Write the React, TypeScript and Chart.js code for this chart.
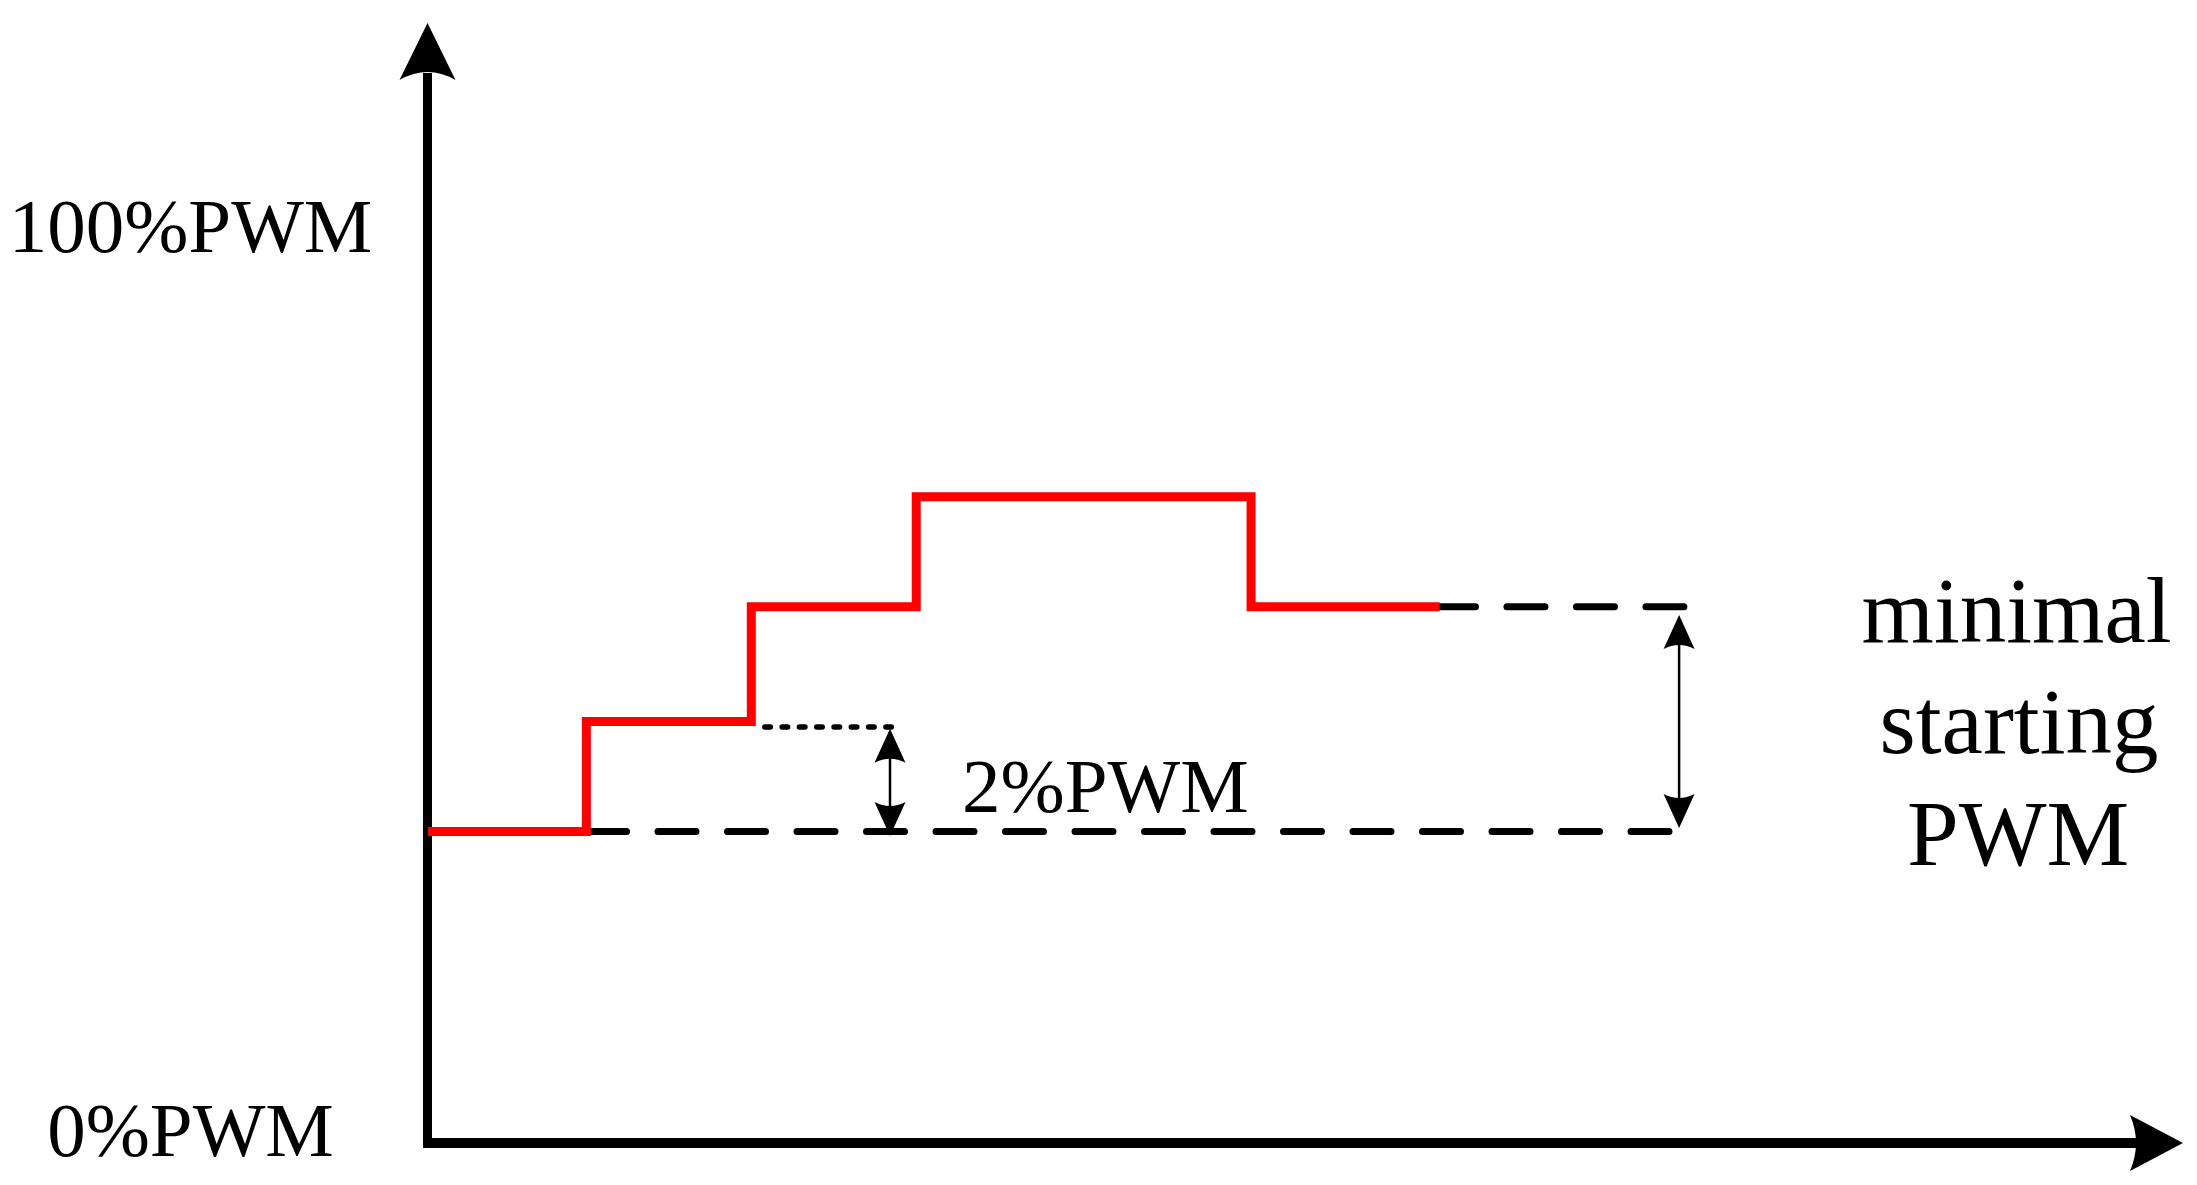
import { useEffect, useRef } from "react";
import { Chart, registerables } from "chart.js";

Chart.register(...registerables);

const FONT = '"Liberation Serif", "Times New Roman", Times, serif';

// scale extents (time units / %PWM)
const X_MAX = 10.64;
const Y_MAX = 122.2;

// red PWM staircase
const pwmX = [0, 0.96, 1.96, 2.96, 3.97, 4.99, 6.133];
const pwmY = [34, 46, 58.5, 70.5, 70.5, 58.5, 58.5];

// dashed reference levels
const baseLevelX = [0.973, 7.524];
const baseLevelY = [34, 34];
const minLevelX = [6.12, 7.614];
const minLevelY = [58.5, 58.5];

// dotted 2% step level
const stepDotX = [2.042, 2.809];
const stepDotY = [45.4, 45.4];

// double-headed arrows
const arrowX = [2.801, 7.585];
const arrowTopY = [45.2, 57.6];
const arrowBottomY = [33.5, 34.37];

// labels
const axisLabels = ["100%PWM", "0%PWM"];
const axisLabelX = [-1.44, -1.44];
const axisLabelY = [97.22, -1.42];

const stepLabel = "2%PWM";
const stepLabelX = 3.238;
const stepLabelY = 36.12;

const noteLines = ["minimal", "starting", "PWM"];
const noteX = [9.631, 9.646, 9.64];
const noteY = [54.66, 42.55, 30.33];

function head(
  ctx: CanvasRenderingContext2D,
  tx: number,
  ty: number,
  dx: number,
  dy: number,
  len: number,
  hw: number,
  concave: number
) {
  const bx = tx - dx * len;
  const by = ty - dy * len;
  const nx = -dy;
  const ny = dx;
  ctx.beginPath();
  ctx.moveTo(tx, ty);
  ctx.lineTo(bx + nx * hw, by + ny * hw);
  ctx.quadraticCurveTo(bx + dx * concave * 2, by + dy * concave * 2, bx - nx * hw, by - ny * hw);
  ctx.closePath();
  ctx.fill();
}

const diagramPlugin = {
  id: "diagram",
  beforeDatasetsDraw(chart: any) {
    const ctx: CanvasRenderingContext2D = chart.ctx;
    const xs = chart.scales.x;
    const ys = chart.scales.y;
    const ox = xs.getPixelForValue(0) - 0.5;
    const oy = ys.getPixelForValue(0);
    const top = ys.getPixelForValue(Y_MAX);
    const right = xs.getPixelForValue(X_MAX);
    ctx.save();
    ctx.strokeStyle = "#000";
    ctx.fillStyle = "#000";
    ctx.lineCap = "butt";
    ctx.lineJoin = "miter";
    ctx.lineWidth = 9;
    ctx.beginPath();
    ctx.moveTo(ox, top + 50);
    ctx.lineTo(ox, oy + 5);
    ctx.stroke();
    ctx.lineWidth = 10;
    ctx.beginPath();
    ctx.moveTo(ox - 4.5, oy);
    ctx.lineTo(right - 45, oy);
    ctx.stroke();
    head(ctx, ox, top, 0, -1, 57, 28, 8);
    head(ctx, right, oy, 1, 0, 53, 28, 6);
    ctx.restore();
  },
  afterDatasetsDraw(chart: any) {
    const ctx: CanvasRenderingContext2D = chart.ctx;
    const xs = chart.scales.x;
    const ys = chart.scales.y;
    ctx.save();
    ctx.strokeStyle = "#000";
    ctx.fillStyle = "#000";
    ctx.lineWidth = 2.5;
    for (let i = 0; i < arrowX.length; i++) {
      const x = xs.getPixelForValue(arrowX[i]);
      const y1 = ys.getPixelForValue(arrowTopY[i]);
      const y2 = ys.getPixelForValue(arrowBottomY[i]);
      ctx.beginPath();
      ctx.moveTo(x, y1 + 25);
      ctx.lineTo(x, y2 - 25);
      ctx.stroke();
      head(ctx, x, y1, 0, -1, 34, 15.5, 4);
      head(ctx, x, y2, 0, 1, 34, 15.5, 4);
    }
    ctx.restore();
  },
  afterDraw(chart: any) {
    const ctx: CanvasRenderingContext2D = chart.ctx;
    const xs = chart.scales.x;
    const ys = chart.scales.y;
    ctx.save();
    ctx.fillStyle = "#000";
    ctx.textBaseline = "alphabetic";
    ctx.font = `77px ${FONT}`;
    ctx.textAlign = "center";
    for (let i = 0; i < axisLabels.length; i++) {
      ctx.fillText(axisLabels[i], xs.getPixelForValue(axisLabelX[i]), ys.getPixelForValue(axisLabelY[i]));
    }
    ctx.textAlign = "left";
    ctx.fillText(stepLabel, xs.getPixelForValue(stepLabelX), ys.getPixelForValue(stepLabelY));
    ctx.font = `93px ${FONT}`;
    ctx.textAlign = "center";
    for (let i = 0; i < noteLines.length; i++) {
      ctx.fillText(noteLines[i], xs.getPixelForValue(noteX[i]), ys.getPixelForValue(noteY[i]));
    }
    ctx.restore();
  },
};

const toPoints = (xs: number[], ys: number[]) => xs.map((x, i) => ({ x, y: ys[i] }));

export default function App() {
  const canvasRef = useRef<HTMLCanvasElement | null>(null);

  useEffect(() => {
    const canvas = canvasRef.current;
    if (!canvas) return;
    const chart = new Chart(canvas, {
      type: "scatter",
      data: {
        datasets: [
          {
            label: "PWM",
            data: toPoints(pwmX, pwmY),
            showLine: true,
            stepped: "before",
            borderColor: "#ff0000",
            borderWidth: 9,
            borderJoinStyle: "miter",
            borderCapStyle: "butt",
            pointRadius: 0,
            clip: false,
          } as any,
          {
            label: "base level",
            data: toPoints(baseLevelX, baseLevelY),
            showLine: true,
            borderColor: "#000",
            borderWidth: 7,
            borderDash: [38, 31.5],
            borderCapStyle: "round",
            pointRadius: 0,
            clip: false,
          } as any,
          {
            label: "minimal level",
            data: toPoints(minLevelX, minLevelY),
            showLine: true,
            borderColor: "#000",
            borderWidth: 7,
            borderDash: [38, 31.5],
            borderCapStyle: "round",
            pointRadius: 0,
            clip: false,
          } as any,
          {
            label: "2% step",
            data: toPoints(stepDotX, stepDotY),
            showLine: true,
            borderColor: "#000",
            borderWidth: 5.5,
            borderDash: [5.5, 11.8],
            borderCapStyle: "round",
            pointRadius: 0,
            clip: false,
          } as any,
        ],
      },
      options: {
        responsive: false,
        maintainAspectRatio: false,
        devicePixelRatio: 1,
        animation: false,
        events: [],
        layout: { padding: { left: 428, top: 23, right: 14, bottom: 42 } },
        plugins: {
          legend: { display: false },
          tooltip: { enabled: false },
          title: { display: false },
        },
        scales: {
          x: { type: "linear", min: 0, max: X_MAX, display: false },
          y: { type: "linear", min: 0, max: Y_MAX, display: false },
        },
      },
      plugins: [diagramPlugin],
    });
    return () => chart.destroy();
  }, []);

  return (
    <div
      style={{
        position: "fixed",
        left: 0,
        top: 0,
        width: 2197,
        height: 1185,
        background: "#fff",
      }}
    >
      <canvas ref={canvasRef} width={2197} height={1185} style={{ display: "block" }} />
    </div>
  );
}
